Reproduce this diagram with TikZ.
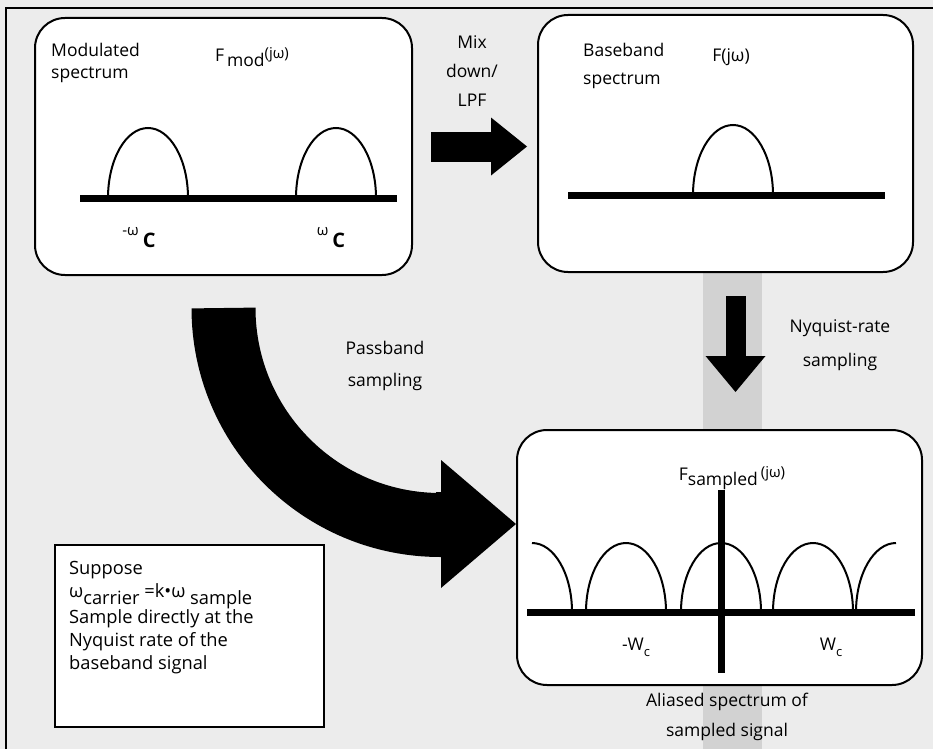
\documentclass[tikz,border=0pt]{standalone}
\usepackage{fontspec}
\setmainfont{Open Sans}
\usetikzlibrary{arrows.meta,positioning}
\tikzset{
  roundbox/.style={draw,line width=2pt,fill=white,rounded corners=30pt,inner sep=0pt},
  notebox/.style={draw,line width=2.5pt,fill=white,inner sep=0pt},
  axis/.style={line width=7pt},
  hump/.style={line width=2pt},
  lbl/.style={font=\fontsize{17.5}{22}\selectfont,align=center,inner sep=0pt},
  blockarrow/.style={line width=30pt,-{Triangle[length=36pt,width=58pt,line width=0pt]}},
}
\begin{document}
\begin{tikzpicture}[x=1pt,y=1pt]
 \useasboundingbox (0,0) rectangle (933,-749);
 \fill[gray!15] (0,0) rectangle (933,-749);
 \fill[gray!35] (703,-272) rectangle (762,-749);
 \draw[line width=2pt] (6,-749)--(6,-8)--(933,-8);
 % boxes
 \node[roundbox,minimum width=377pt,minimum height=257pt] (mod) at (223.5,-146.5) {};
 \node[roundbox,minimum width=375pt,minimum height=257pt] (base) at (725.5,-143.5) {};
 \node[roundbox,minimum width=405pt,minimum height=255pt] (samp) at (719.5,-557.5) {};
 \node[notebox,minimum width=269pt,minimum height=182pt] (note) at (189.5,-636) {};
 % arrows
 \draw[blockarrow,shorten <=18pt,shorten >=10pt] (mod.east) -- (mod.east -| base.west);
 \coordinate (nyq) at ([xshift=10pt]base.south);
 \draw[line width=20pt,-{Triangle[length=36pt,width=60pt,line width=0pt]},shorten <=23pt,shorten >=37pt] (nyq) -- (nyq |- samp.north);
 \coordinate (passtip) at ([yshift=33.5pt]samp.west);
 \draw[line width=64pt] ([yshift=-32pt]mod.south) arc[start angle=180,end angle=270,radius=217pt] -- ++(6pt,0);
 \draw[line width=64pt,-{Triangle[length=75pt,width=128pt,line width=0pt]}] ([xshift=-80pt]passtip) -- (passtip);
 % modulated spectrum
 \draw[hump] (108,-198) arc[start angle=180,end angle=0,x radius=40,y radius=70];
 \draw[hump] (296,-198) arc[start angle=180,end angle=0,x radius=40,y radius=70];
 \draw[axis] (80,-198) -- (397,-198);
 \node[lbl,align=left,anchor=west] (modtxt) at (51,-63) {Modulated\\spectrum};
 \node[lbl] (modf) at (252,-57) {F\,\raisebox{-0.6ex}{mod}\raisebox{0.3ex}{\fontsize{15}{15}\selectfont(jω)}};
 \node[lbl] (wneg) at (139,-238) {\raisebox{12pt}{\fontsize{15}{15}\selectfont -ω}\hspace{4pt}{\fontsize{20}{20}\selectfont\bfseries C}};
 \node[lbl] (wpos) at (331,-238) {\raisebox{12pt}{\fontsize{15}{15}\selectfont ω}\hspace{4pt}{\fontsize{20}{20}\selectfont\bfseries C}};
 % baseband spectrum
 \draw[hump] (693,-195) arc[start angle=180,end angle=0,x radius=40,y radius=70];
 \draw[axis] (568,-195) -- (885,-195);
 \node[lbl,align=left,anchor=west,font=\fontsize{17.5}{28}\selectfont] (basetxt) at (583,-66) {Baseband\\spectrum};
 \node[lbl] (basef) at (731,-57) {F(jω)};
 % sampled spectrum
 \foreach \c in {626,721,813}
   \draw[hump] (\c-40,-612) arc[start angle=180,end angle=0,x radius=40,y radius=69];
 \draw[hump] (532,-543) arc[start angle=90,end angle=0,x radius=40,y radius=69];
 \draw[hump] (856,-612) arc[start angle=180,end angle=90,x radius=40,y radius=69];
 \draw[axis] (527,-612) -- (915,-612);
 \draw[axis] (721,-490) -- (721,-673);
 \node[lbl] (sampf) at (732,-478) {F\raisebox{-0.6ex}{sampled}\,\raisebox{0.3ex}{\fontsize{15}{15}\selectfont(jω)}};
 \node[lbl] (wcneg) at (636,-647) {-W\raisebox{-0.6ex}{\fontsize{13}{13}\selectfont c}};
 \node[lbl] (wcpos) at (831,-647) {W\raisebox{-0.6ex}{\fontsize{13}{13}\selectfont c}};
 % arrow labels
 \node[lbl,font=\fontsize{17.5}{29}\selectfont] (mixtxt) at (472,-71) {Mix\\down/\\LPF};
 \node[lbl,font=\fontsize{17.5}{32}\selectfont] (passtxt) at (385,-366) {Passband\\sampling};
 \node[lbl,font=\fontsize{17.5}{34}\selectfont] (nyqtxt) at (840,-345) {Nyquist-rate\\sampling};
 \node[lbl,font=\fontsize{17.5}{30}\selectfont] (aliastxt) at (727,-717) {Aliased spectrum of\\sampled signal};
 % note
 \node[lbl,align=left,anchor=north west,font=\fontsize{18.3}{23}\selectfont] (notetxt) at (69,-561) {Suppose\\ω\raisebox{-0.7ex}{carrier} =k•ω\raisebox{-0.7ex}{ sample}\\Sample directly at the\\Nyquist rate of the\\baseband signal};
\end{tikzpicture}
\end{document}
